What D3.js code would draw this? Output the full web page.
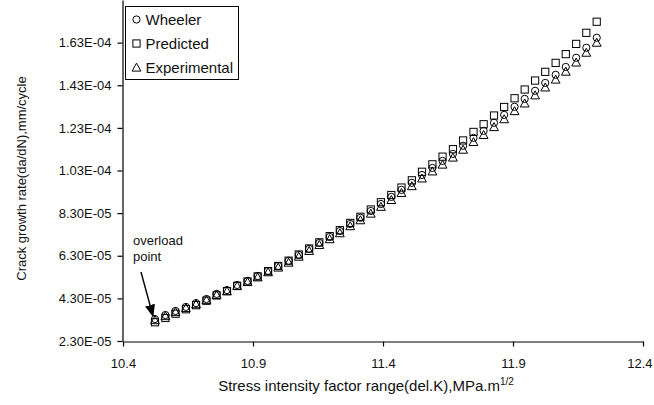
<!DOCTYPE html>
<html>
<head>
<meta charset="utf-8">
<script src="https://cdn.jsdelivr.net/npm/d3@7"></script>
<style>
  html, body { margin: 0; padding: 0; background: #fff; }
  svg { display: block; font-family: "Liberation Sans", Arial, sans-serif; }
</style>
</head>
<body>
<svg id="chart" width="654" height="405"></svg>
<script>
// Stress intensity factor range, MPa·m^1/2
const deltaK = [10.523, 10.563, 10.602, 10.642, 10.681, 10.721, 10.760, 10.800, 10.839, 10.879,
  10.918, 10.958, 10.997, 11.037, 11.076, 11.116, 11.155, 11.195, 11.234, 11.274,
  11.313, 11.353, 11.392, 11.432, 11.471, 11.511, 11.550, 11.590, 11.629, 11.669,
  11.708, 11.748, 11.787, 11.827, 11.866, 11.906, 11.945, 11.985, 12.024, 12.064,
  12.103, 12.143, 12.182, 12.222];

// Crack growth rate da/dN (mm/cycle), in units of 1e-5
const wheeler = [3.33, 3.52, 3.71, 3.90, 4.08, 4.27, 4.51, 4.69, 4.93, 5.12,
  5.35, 5.59, 5.82, 6.06, 6.34, 6.62, 6.90, 7.18, 7.46, 7.79,
  8.08, 8.40, 8.73, 9.06, 9.39, 9.72, 10.09, 10.42, 10.75, 11.08,
  11.46, 11.83, 12.16, 12.54, 12.91, 13.29, 13.66, 14.04, 14.41, 14.79,
  15.16, 15.59, 16.06, 16.53];
const predicted = [3.18, 3.38, 3.58, 3.79, 3.98, 4.19, 4.44, 4.64, 4.89, 5.09,
  5.33, 5.58, 5.82, 6.07, 6.36, 6.64, 6.93, 7.22, 7.50, 7.84,
  8.13, 8.47, 8.81, 9.15, 9.50, 9.84, 10.24, 10.59, 10.95, 11.30,
  11.71, 12.11, 12.47, 12.88, 13.28, 13.69, 14.10, 14.52, 14.93, 15.35,
  15.76, 16.24, 16.76, 17.28];
const experimental = [3.28, 3.47, 3.66, 3.85, 4.03, 4.22, 4.46, 4.64, 4.88, 5.07,
  5.29, 5.53, 5.75, 5.98, 6.26, 6.53, 6.81, 7.08, 7.36, 7.69,
  7.97, 8.28, 8.60, 8.92, 9.25, 9.57, 9.93, 10.26, 10.58, 10.91,
  11.28, 11.64, 11.97, 12.34, 12.71, 13.09, 13.45, 13.83, 14.20, 14.57,
  14.94, 15.37, 15.83, 16.30];

const seriesNames = ["Wheeler", "Predicted", "Experimental"];
const xTicks = [10.4, 10.9, 11.4, 11.9, 12.4];
const yTicks = [2.3e-5, 4.3e-5, 6.3e-5, 8.3e-5, 1.03e-4, 1.23e-4, 1.43e-4, 1.63e-4];

const series = [
  { name: seriesNames[0], values: wheeler, shape: "circle" },
  { name: seriesNames[1], values: predicted, shape: "square" },
  { name: seriesNames[2], values: experimental, shape: "triangle" }
];

const svg = d3.select("#chart");
const plotLeft = 123, plotRight = 643, plotTop = 0, plotBottom = 341;

const x = d3.scaleLinear().domain([10.4, 12.4]).range([plotLeft, plotRight]);
const y = d3.scaleLinear().domain([2.3e-5, 1.83e-4]).range([plotBottom, plotTop]);

// "1.63E-04" style labels
const sci = v => {
  const [m, e] = v.toExponential(2).split("e");
  const n = Math.abs(+e);
  return m + "E" + (+e < 0 ? "-" : "+") + (n < 10 ? "0" + n : n);
};

const font = 13;
const bigFont = 15;

const xAxis = svg.append("g")
  .attr("transform", `translate(0,${plotBottom + 0.5})`)
  .call(d3.axisBottom(x).tickValues(xTicks).tickFormat(d3.format(".1f")).tickSize(5).tickSizeOuter(0).tickPadding(12));
const yAxis = svg.append("g")
  .attr("transform", `translate(${plotLeft - 0.5},0)`)
  .call(d3.axisLeft(y).tickValues(yTicks).tickFormat(sci).tickSize(5).tickSizeOuter(0).tickPadding(6));

[xAxis, yAxis].forEach(g => {
  g.select(".domain").attr("stroke", "#000").attr("stroke-width", 1.2);
  g.selectAll(".tick line").attr("stroke", "#000").attr("stroke-width", 1.2);
  g.selectAll(".tick text").attr("fill", "#111").style("font-size", font + "px")
    .style("font-family", '"Liberation Sans", Arial, sans-serif');
});
// keep the last x label inside the page edge
xAxis.selectAll(".tick text").filter(d => d === xTicks[xTicks.length - 1])
  .attr("text-anchor", "end").attr("dx", 9);

// Axis titles
svg.append("text")
  .attr("transform", `translate(26,${(plotTop + plotBottom) / 2 + 8}) rotate(-90)`)
  .attr("text-anchor", "middle")
  .attr("fill", "#111")
  .style("font-size", font + "px")
  .text("Crack growth rate(da/dN),mm/cycle");

const xt = svg.append("text")
  .attr("x", 366)
  .attr("y", 391)
  .attr("text-anchor", "middle")
  .attr("fill", "#111")
  .style("font-size", bigFont + "px");
xt.append("tspan").text("Stress intensity factor range(del.K),MPa.m");
xt.append("tspan").attr("dy", -6).style("font-size", "10px").text("1/2");

// Marker shapes
function marker(g, shape, cx, cy) {
  if (shape === "circle") {
    g.append("circle").attr("cx", cx).attr("cy", cy).attr("r", 3.6);
  } else if (shape === "square") {
    g.append("rect").attr("x", cx - 3.6).attr("y", cy - 3.6).attr("width", 7.2).attr("height", 7.2);
  } else {
    g.append("path").attr("d", `M${cx},${cy - 4.4}L${cx + 4.4},${cy + 3.6}L${cx - 4.4},${cy + 3.6}Z`);
  }
}

const plot = svg.append("g").attr("fill", "none").attr("stroke", "#000").attr("stroke-width", 1);
series.forEach(s => {
  const g = plot.append("g").attr("class", "series-" + s.shape);
  s.values.forEach((v, i) => marker(g, s.shape, x(deltaK[i]), y(v * 1e-5)));
});

// Overload annotation
svg.append("defs").append("marker")
  .attr("id", "arrowhead").attr("viewBox", "0 0 10 10")
  .attr("refX", 9).attr("refY", 5)
  .attr("markerWidth", 9).attr("markerHeight", 9)
  .attr("orient", "auto-start-reverse")
  .append("path").attr("d", "M0,1L10,5L0,9Z").attr("fill", "#000");

svg.append("text").attr("x", 133).attr("y", 245).attr("fill", "#111").style("font-size", font + "px").text("overload");
svg.append("text").attr("x", 133).attr("y", 261).attr("fill", "#111").style("font-size", font + "px").text("point");
svg.append("line")
  .attr("x1", 141).attr("y1", 272)
  .attr("x2", x(deltaK[0]) - 2).attr("y2", y(wheeler[0] * 1e-5) - 3)
  .attr("stroke", "#000").attr("stroke-width", 1.4)
  .attr("marker-end", "url(#arrowhead)");

// Legend
const lg = svg.append("g").attr("transform", "translate(125.5,6.5)");
lg.append("rect").attr("width", 113).attr("height", 73).attr("fill", "#fff").attr("stroke", "#000").attr("stroke-width", 1);
series.forEach((s, i) => {
  const cy = 13 + i * 24;
  const g = lg.append("g").attr("fill", "none").attr("stroke", "#000").attr("stroke-width", 1);
  marker(g, s.shape, 11, cy);
  lg.append("text").attr("x", 20).attr("y", cy + 5.5).attr("fill", "#111")
    .style("font-size", bigFont + "px").text(s.name);
});
</script>
</body>
</html>
